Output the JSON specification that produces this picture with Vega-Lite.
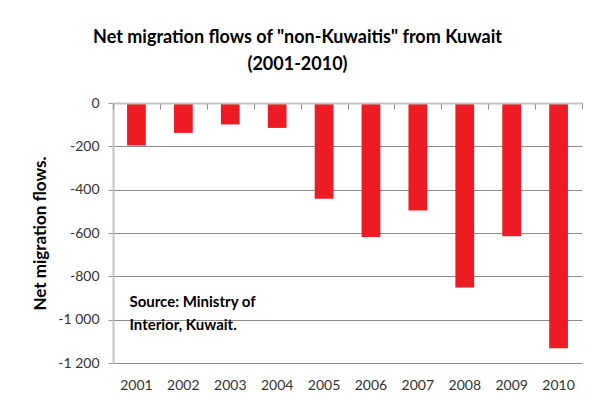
{
  "$schema": "https://vega.github.io/schema/vega-lite/v6.json",
  "width": 469,
  "height": 260,
  "autosize": {"type": "none"},
  "padding": {"left": 113, "top": 103, "right": 13, "bottom": 40},
  "background": "white",
  "title": {
    "text": ["Net migration flows of \"non-Kuwaitis\" from Kuwait", "(2001-2010)"],
    "font": "Lato",
    "fontSize": 18,
    "fontWeight": "bold",
    "color": "black",
    "anchor": "middle",
    "dx": -50,
    "offset": 22,
    "lineHeight": 27
  },
  "datasets": {
    "flows": [
      {"year": "2001", "value": -196},
      {"year": "2002", "value": -138},
      {"year": "2003", "value": -99},
      {"year": "2004", "value": -115},
      {"year": "2005", "value": -442},
      {"year": "2006", "value": -618},
      {"year": "2007", "value": -496},
      {"year": "2008", "value": -852},
      {"year": "2009", "value": -615},
      {"year": "2010", "value": -1132}
    ],
    "note": [
      {"year": "2001", "v": -920, "label": "Source: Ministry of"},
      {"year": "2001", "v": -1023, "label": "Interior, Kuwait."}
    ]
  },
  "layer": [
    {
      "data": {"name": "flows"},
      "mark": {"type": "bar", "color": "#ed1c24", "width": {"band": 0.4}},
      "encoding": {
        "x": {
          "field": "year",
          "type": "ordinal",
          "scale": {"paddingInner": 0, "paddingOuter": 0},
          "axis": {
            "orient": "bottom",
            "title": null,
            "labelAngle": 0,
            "ticks": false,
            "domain": false,
            "grid": false,
            "labelPadding": 15,
            "labelFont": "Lato",
            "labelFontSize": 14,
            "labelColor": "#333333"
          }
        },
        "y": {
          "field": "value",
          "type": "quantitative",
          "scale": {"domain": [-1200, 0], "nice": false},
          "axis": {
            "title": "Net migration flows.",
            "titleFont": "Lato",
            "titleFontSize": 17,
            "titleFontWeight": "bold",
            "titleColor": "black",
            "titlePadding": 8,
            "values": [0, -200, -400, -600, -800, -1000, -1200],
            "format": ",d",
            "labelFont": "Lato",
            "labelFontSize": 14,
            "labelColor": "#333333",
            "labelPadding": 9,
            "tickSize": 5,
            "tickColor": "#999999",
            "domainColor": "#c4c4c4",
            "domainWidth": 2,
            "grid": true,
            "gridColor": "#8c8c8c",
            "gridOpacity": 1,
            "gridWidth": 1,
            "zindex": 0
          }
        }
      }
    },
    {
      "data": {"name": "flows"},
      "mark": {"type": "bar", "opacity": 0},
      "encoding": {
        "x": {
          "field": "year",
          "type": "ordinal",
          "axis": {
            "orient": "top",
            "title": null,
            "labels": false,
            "grid": false,
            "tickBand": "extent",
            "tickSize": -6,
            "tickColor": "#8c8c8c",
            "domainColor": "#c4c4c4",
            "domainWidth": 2,
            "zindex": 1
          }
        },
        "y": {"field": "value", "type": "quantitative", "axis": null}
      }
    },
    {
      "data": {"name": "note"},
      "mark": {"type": "text", "align": "left", "baseline": "middle", "dx": -7, "font": "Lato", "fontSize": 15, "fontWeight": "bold", "color": "black"},
      "encoding": {
        "x": {"field": "year", "type": "ordinal", "axis": null},
        "y": {"field": "v", "type": "quantitative", "axis": null},
        "text": {"field": "label"}
      }
    }
  ],
  "resolve": {"axis": {"x": "independent", "y": "independent"}},
  "config": {
    "view": {"stroke": null},
    "locale": {"number": {"decimal": ".", "thousands": " ", "grouping": [3], "currency": ["", ""], "minus": "-"}}
  }
}
